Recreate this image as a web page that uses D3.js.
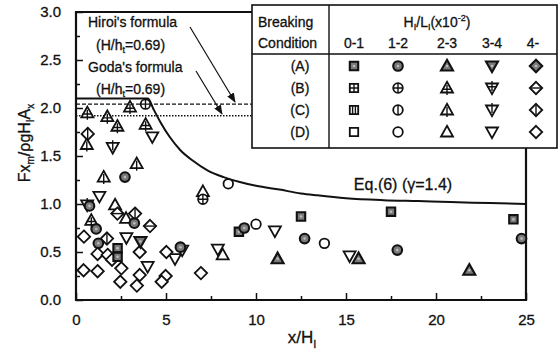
<!DOCTYPE html>
<html>
<head>
<meta charset="utf-8">
<script src="https://cdn.jsdelivr.net/npm/d3@7"></script>
<style>
  body { margin: 0; background: #fff; }
  svg text { font-family: "Liberation Sans", Arial, sans-serif; fill: #111; stroke: #111; stroke-width: 0.3; }
</style>
</head>
<body>
<svg id="chart" width="560" height="354"></svg>
<script>
// ---- data ----
const bins = ['0-1', '1-2', '2-3', '3-4', '4-']          // H_I/L_I (x10^-2)
const conditions = ['(A)', '(B)', '(C)', '(D)']          // breaking condition
const shapes = ['square', 'circle', 'up', 'down', 'diamond']

const xTicks = [0, 5, 10, 15, 20, 25]
const yTicks = [0, 0.5, 1.0, 1.5, 2.0, 2.5, 3.0]

// [x/H_I, Fx_m/rho g H_I A_x, bin index]
const condA = [
  [2.31, 0.54, 0], [2.31, 0.45, 0], [9.05, 0.71, 0], [12.5, 0.87, 0], [17.5, 0.92, 0], [24.3, 0.84, 0],
  [0.75, 0.98, 1], [1.12, 0.74, 1], [1.24, 0.59, 1], [2.72, 1.28, 1], [3.24, 0.80, 1], [9.35, 0.75, 1],
  [12.7, 0.64, 1], [17.85, 0.52, 1], [24.75, 0.64, 1], [5.8, 0.55, 1],
  [11.2, 0.43, 2], [15.7, 0.43, 2], [21.85, 0.31, 2],
  [3.58, 0.61, 3]
]
const condB = [
  [3.86, 2.04, 1], [7.05, 1.05, 1],
  [0.63, 1.95, 2], [1.74, 1.91, 2], [2.3, 1.81, 2], [3.0, 2.01, 2], [3.87, 1.83, 2], [0.85, 0.83, 2],
  [2.3, 0.9, 4], [4.11, 0.77, 4]
]
const condC = [
  [0.6, 1.62, 2], [3.37, 1.42, 2], [1.54, 1.28, 2],
  [2.04, 1.59, 3], [0.62, 0.99, 3],
  [0.65, 1.73, 4], [3.28, 0.9, 4], [1.72, 0.64, 4]
]
const condD = [
  [8.46, 1.21, 1], [10.0, 0.79, 1], [13.8, 0.59, 1],
  [7.05, 1.13, 2], [2.17, 0.99, 2], [2.78, 0.85, 2], [8.15, 0.47, 2],
  [4.24, 1.70, 3], [1.3, 1.08, 3], [2.8, 0.65, 3], [3.98, 0.35, 3], [5.5, 0.43, 3], [5.9, 0.52, 3],
  [7.88, 0.53, 3], [11.05, 0.72, 3], [15.2, 0.46, 3],
  [0.44, 0.66, 4], [1.2, 0.48, 4], [1.76, 0.47, 4], [2.0, 0.42, 4], [3.54, 0.50, 4], [0.42, 0.31, 4],
  [1.2, 0.30, 4], [2.52, 0.33, 4], [2.46, 0.19, 4], [3.54, 0.26, 4], [3.38, 0.15, 4], [5.02, 0.50, 4],
  [4.98, 0.25, 4], [4.76, 0.19, 4], [6.94, 0.28, 4]
]

// Eq.(6) (gamma = 1.4) curve
const eqX = [0, 4.0, 4.3, 4.7, 5.2, 5.8, 6.5, 7.3, 8.2, 9.1, 10, 11.3, 12.5, 13.4, 15, 17.1, 19, 20.8, 23, 25]
const eqY = [2.1, 2.1, 1.99, 1.85, 1.7, 1.56, 1.45, 1.35, 1.28, 1.23, 1.19, 1.15, 1.11, 1.09, 1.06, 1.04, 1.03, 1.02, 1.01, 1.0]

const hiroiY = 2.04
const godaY = 1.92

// ---- layout ----
const svg = d3.select('#chart')
const pL = 76, pR = 526, pT = 12, pB = 300
const legL = 252, legR = 557, legT = 5, legB = 148

const x = d3.scaleLinear().domain([0, 25]).range([pL, pR])
const y = d3.scaleLinear().domain([0, 3]).range([pB, pT])

// axes, ticks point inwards
const gx = svg.append('g').attr('transform', `translate(0,${pB})`)
gx.call(d3.axisBottom(x).tickValues(xTicks).tickSize(-7).tickPadding(14).tickFormat(d3.format('d')))
svg.append('g').attr('transform', `translate(0,${pB})`)
  .call(d3.axisBottom(x).tickValues([2.5, 7.5, 12.5, 17.5, 22.5]).tickSize(-4).tickFormat(''))
const gy = svg.append('g').attr('transform', `translate(${pL},0)`)
gy.call(d3.axisLeft(y).tickValues(yTicks).tickSize(-7).tickPadding(15).tickFormat(d3.format('.1f')))
svg.append('g').attr('transform', `translate(${pL},0)`)
  .call(d3.axisLeft(y).tickValues([0.25, 0.75, 1.25, 1.75, 2.25, 2.75]).tickSize(-4).tickFormat(''))

svg.selectAll('.domain').remove()
svg.selectAll('.tick line').attr('stroke', '#111').attr('stroke-width', 1.5)
svg.selectAll('.tick text').attr('font-size', 15).attr('fill', '#111')
  .style('font-family', '"Liberation Sans", Arial, sans-serif')

// frame
const frame = d3.path()
frame.moveTo(legL, pT); frame.lineTo(pL, pT); frame.lineTo(pL, pB)
frame.lineTo(pR, pB); frame.lineTo(pR, legB)
svg.append('path').attr('d', frame.toString()).attr('fill', 'none')
  .attr('stroke', '#111').attr('stroke-width', 2.2)

// reference lines
svg.append('line').attr('x1', pL).attr('x2', legL).attr('y1', y(hiroiY)).attr('y2', y(hiroiY))
  .attr('stroke', '#111').attr('stroke-width', 1.2).attr('stroke-dasharray', '4,2')
svg.append('line').attr('x1', pL).attr('x2', legL).attr('y1', y(godaY)).attr('y2', y(godaY))
  .attr('stroke', '#111').attr('stroke-width', 1.4).attr('stroke-dasharray', '1.5,1.5')

// Eq.(6) curve
const eq = eqX.map((v, i) => [v, eqY[i]])
svg.append('path').datum(eq)
  .attr('d', d3.line().x(d => x(d[0])).y(d => y(d[1])).curve(d3.curveMonotoneX))
  .attr('fill', 'none').attr('stroke', '#111').attr('stroke-width', 2)

// ---- markers ----
function outline(shape) {
  switch (shape) {
  case 'square': return 'M-4.2,-4.2H4.2V4.2H-4.2Z'
  case 'circle': return 'M-4.8,0a4.8,4.8 0 1,0 9.6,0a4.8,4.8 0 1,0 -9.6,0Z'
  case 'up': return 'M0,-6.2L6,4.5L-6,4.5Z'
  case 'down': return 'M-6,-4.5L6,-4.5L0,6.2Z'
  default: return 'M0,-6.2L6.2,0L0,6.2L-6.2,0Z'
  }
}
function inner(shape, cond) {
  if (cond == 1) {
    switch (shape) {
    case 'square': return 'M0,-4.2V4.2M-4.2,0H4.2'
    case 'circle': return 'M0,-4.8V4.8M-4.8,0H4.8'
    case 'up': return 'M-4.8,1.2H4.8M0,-3V7'
    case 'down': return 'M-4.8,-1.2H4.8M0,-7V3'
    default: return 'M-6.2,0H6.2'
    }
  }
  if (cond == 2) {
    switch (shape) {
    case 'square': return 'M-1.4,-4.2V4.2M1.4,-4.2V4.2'
    case 'circle': return 'M0,-4.8V4.8'
    case 'up': return 'M0,-3V7'
    case 'down': return 'M0,-7V3'
    default: return 'M0,-6.2V6.2'
    }
  }
  return null
}
function drawMarker(g, px, py, bin, cond) {
  const shape = shapes[bin]
  const m = g.append('g').attr('transform', `translate(${px},${py})`)
  if (cond == 0) {
    m.append('path').attr('d', outline(shape)).attr('fill', '#7a7a7a')
      .attr('stroke', '#111').attr('stroke-width', 2.1)
    m.append('circle').attr('r', 1.3).attr('fill', '#bbb')
  } else {
    m.append('path').attr('d', outline(shape)).attr('fill', '#fff')
      .attr('stroke', '#111').attr('stroke-width', 1.8)
    const d = inner(shape, cond)
    if (d) m.append('path').attr('d', d).attr('fill', 'none').attr('stroke', '#111').attr('stroke-width', 1.4)
  }
}

const pts = svg.append('g')
const allConds = [condA, condB, condC, condD]
;[3, 2, 1, 0].forEach(c => {
  allConds[c].forEach(p => drawMarker(pts, x(p[0]), y(p[1]), p[2], c))
})

// ---- annotations ----
const defs = svg.append('defs')
defs.append('marker').attr('id', 'arr').attr('viewBox', '0 0 10 10').attr('refX', 9).attr('refY', 5)
  .attr('markerWidth', 8).attr('markerHeight', 8).attr('orient', 'auto-start-reverse')
  .append('path').attr('d', 'M0,1L10,5L0,9Z').attr('fill', '#111')

function note(tx, ty, parts) {
  const t = svg.append('text').attr('x', tx).attr('y', ty).attr('font-size', 14)
  parts.forEach(p => {
    const s = t.append('tspan').text(p[0])
    if (p[1] == 'sub') s.attr('font-size', 9).attr('dy', 3)
    if (p[1] == 'back') s.attr('dy', -3)
  })
  return t
}
note(88, 27, [["Hiroi's formula"]])
note(96, 50, [['(H/h'], ['t', 'sub'], ['=0.69)', 'back']])
note(88, 72, [["Goda's formula"]])
note(96, 94, [['(H/h'], ['t', 'sub'], ['=0.69)', 'back']])
svg.append('line').attr('x1', 190).attr('y1', 27).attr('x2', 235).attr('y2', 102)
  .attr('stroke', '#111').attr('stroke-width', 1.2).attr('marker-end', 'url(#arr)')
svg.append('line').attr('x1', 196).attr('y1', 71).attr('x2', 222).attr('y2', 114)
  .attr('stroke', '#111').attr('stroke-width', 1.2).attr('marker-end', 'url(#arr)')

svg.append('text').attr('x', 403).attr('y', 190).attr('text-anchor', 'middle')
  .attr('font-size', 16).text('Eq.(6) (\u03B3=1.4)')

// ---- legend table ----
const leg = svg.append('g')
leg.append('rect').attr('x', legL).attr('y', legT).attr('width', legR - legL).attr('height', legB - legT)
  .attr('fill', '#fff').attr('stroke', '#111').attr('stroke-width', 1.6)
leg.append('line').attr('x1', 329).attr('x2', 329).attr('y1', legT).attr('y2', legB)
  .attr('stroke', '#111').attr('stroke-width', 1.4)
leg.append('line').attr('x1', legL).attr('x2', legR).attr('y1', 54).attr('y2', 54)
  .attr('stroke', '#111').attr('stroke-width', 1.6)
leg.append('text').attr('x', 258).attr('y', 27).attr('font-size', 14).text('Breaking')
leg.append('text').attr('x', 258).attr('y', 48).attr('font-size', 14).text('Condition')

const hdr = leg.append('text').attr('x', 437).attr('y', 27).attr('text-anchor', 'middle').attr('font-size', 14)
hdr.append('tspan').text('H')
hdr.append('tspan').text('I').attr('font-size', 9).attr('dy', 3)
hdr.append('tspan').text('/L').attr('dy', -3)
hdr.append('tspan').text('I').attr('font-size', 9).attr('dy', 3)
hdr.append('tspan').text('(x10').attr('dy', -3)
hdr.append('tspan').text('-2').attr('font-size', 9).attr('dy', -6)
hdr.append('tspan').text(')').attr('dy', 6)

const colX = [354, 398, 447, 492, 536]
const rowY = [66, 88, 110, 132]
leg.selectAll('.bin').data(bins).join('text').attr('class', 'bin')
  .attr('x', (d, i) => colX[i] - (i == 4 ? 3 : 0)).attr('y', 48).attr('text-anchor', 'middle')
  .attr('font-size', 14).text(d => d)
leg.selectAll('.cond').data(conditions).join('text').attr('class', 'cond')
  .attr('x', 300).attr('y', (d, i) => rowY[i] + 5).attr('text-anchor', 'middle')
  .attr('font-size', 14).text(d => d)
conditions.forEach((c, ci) => {
  bins.forEach((b, bi) => drawMarker(leg, colX[bi], rowY[ci], bi, ci))
})

// ---- axis titles ----
const yl = svg.append('text').attr('transform', 'translate(30,143) rotate(-90)')
  .attr('text-anchor', 'middle').attr('font-size', 16)
yl.append('tspan').text('Fx')
yl.append('tspan').text('m').attr('font-size', 10).attr('dy', 4)
yl.append('tspan').text('/\u03C1gH').attr('dy', -4)
yl.append('tspan').text('I').attr('font-size', 10).attr('dy', 4)
yl.append('tspan').text('A').attr('dy', -4)
yl.append('tspan').text('x').attr('font-size', 10).attr('dy', 4)

const xl = svg.append('text').attr('x', 302).attr('y', 343).attr('text-anchor', 'middle').attr('font-size', 17)
xl.append('tspan').text('x/H')
xl.append('tspan').text('I').attr('font-size', 11).attr('dy', 5)
</script>
</body>
</html>
